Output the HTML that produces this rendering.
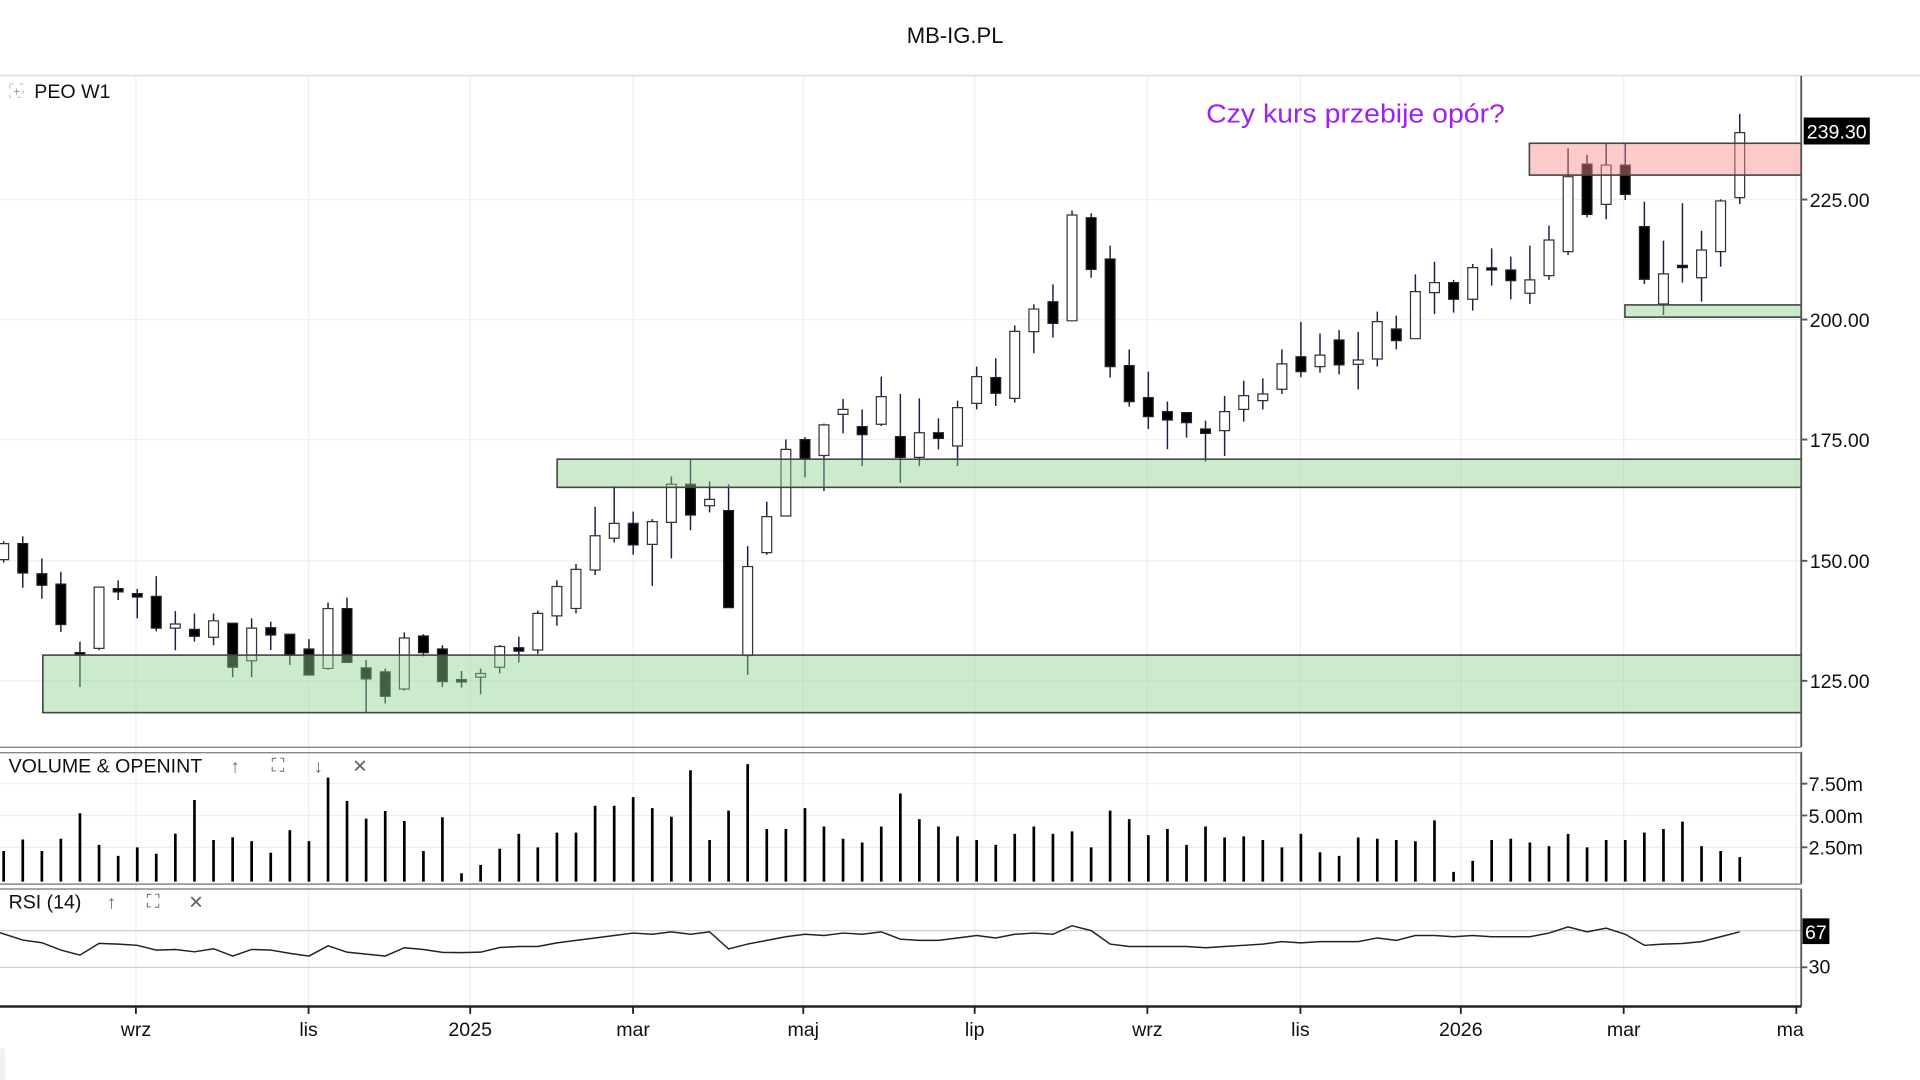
<!DOCTYPE html>
<html><head><meta charset="utf-8"><style>
html,body{margin:0;padding:0;background:#fff;width:1920px;height:1080px;overflow:hidden}
svg{display:block}
text{font-family:"Liberation Sans",sans-serif}
</style></head><body>
<svg width="1920" height="1080" viewBox="0 0 1568 882" xmlns="http://www.w3.org/2000/svg">
<rect width="1568" height="882" fill="#fff"/>
<text x="780" y="35" font-size="18" text-anchor="middle" fill="#111">MB-IG.PL</text>
<line x1="0" y1="61.7" x2="1568" y2="61.7" stroke="#ddd" stroke-width="1.2"/>
<!-- vertical grid -->
<g stroke="#eee" stroke-width="1">
<path d="M111 62V822M252 62V822M384 62V822M517 62V822M656 62V822M796 62V822M937 62V822M1062 62V822M1193 62V822M1326 62V822M1467 62V822"/>
<path d="M0 163H1471M0 261H1471M0 359H1471M0 458H1471M0 556H1471M0 640H1471M0 666H1471M0 692H1471"/>
</g>
<g stroke="#d0d0d0" stroke-width="1"><path d="M0 760H1471M0 790H1471"/></g>
<!-- wicks -->
<path fill="none" stroke="#1c1c50" stroke-width="1.2" d="M3 442V459.5 M18.6 438V480 M34.2 456V489 M49.7 467V516 M65.3 524V561 M80.9 479V531 M96.5 474V490 M112.1 481V505 M127.6 470.5V515.6 M143.2 499V531 M158.8 501V524 M174.4 501V527 M190 509V553 M205.5 505V553 M221.1 507.7V530.8 M236.7 518V543 M252.3 522V551.3 M267.9 492V547 M283.4 488V541 M299 538.9V582.5 M314.6 546V574.5 M330.2 516.4V564 M345.8 518V536 M361.3 527V561.3 M376.9 548V561.6 M392.5 546V567 M408.1 526.8V549.9 M423.7 519.9V541 M439.2 498.7V534 M454.8 474V511 M470.4 460.6V500.9 M486 413.8V469.6 M501.6 397V443 M517.1 417.8V453 M532.7 424V478.5 M548.3 389V456 M563.9 375V433 M579.5 393V418.4 M595 395.5V496.2 M610.6 446V551 M626.2 409.7V453 M641.8 358.8V421.4 M657.4 357V389.9 M672.9 346V401 M688.5 325.9V353.9 M704.1 334.3V380.6 M719.7 307.6V347.9 M735.3 321.8V394.2 M750.8 325.3V380.6 M766.4 341.6V367 M782 327.2V380.6 M797.6 299.4V334.3 M813.2 292.6V331.6 M828.7 265.7V328.8 M844.3 248.5V288.5 M859.9 232.2V275.7 M875.5 172V262 M891.1 174.2V226.8 M906.6 200.6V308.4 M922.2 285.3V332.1 M937.8 303.5V350.3 M953.4 328V366.9 M969 337V357.4 M984.5 343.5V377 M1000.1 323.4V372.4 M1015.7 310.9V344.3 M1031.3 309V334.3 M1046.9 285.3V321.8 M1062.4 262.9V308.1 M1078 272.4V304.3 M1093.6 269.6V305.7 M1109.2 271V318 M1124.8 254.5V299.4 M1140.3 257.8V285.3 M1155.9 224.1V276.6 M1171.5 213.7V256.4 M1187.1 228.6V255.3 M1202.7 215.6V253.7 M1218.2 202.8V233.3 M1233.8 209.6V244.4 M1249.4 200.6V248.3 M1265 184.3V228.6 M1280.6 121.1V208.3 M1296.1 126.6V177.5 M1311.7 117V179.1 M1327.3 117.6V163.3 M1342.9 164.7V231.9 M1358.5 196.5V257.3 M1374 166V230.8 M1389.6 188.4V246.4 M1405.2 162.8V217.8 M1420.8 93V166.6"/>
<!-- black bodies -->
<path fill="#000" stroke="#222" stroke-width="1" d="M14.6 444h8v24h-8z M30.2 468.6h8v9.4h-8z M45.7 477h8v33h-8z M61.3 533h8v2h-8z M92.5 480.7h8v2.7h-8z M108.1 484.8h8v2.8h-8z M123.6 487h8v26h-8z M154.8 514h8v5.6h-8z M186 509h8v35.9h-8z M217.1 512.7h8v5.9h-8z M232.7 518h8v17h-8z M248.3 530h8v21.3h-8z M279.4 497h8v43.9h-8z M295 545.4h8v9h-8z M310.6 548.7h8v19.9h-8z M341.8 519.4h8v13.6h-8z M357.3 530h8v26.7h-8z M372.9 555h8v2h-8z M419.7 529h8v2.8h-8z M513.1 427.4h8v17.6h-8z M559.9 395.5h8v25.1h-8z M591 417h8v79.2h-8z M653.4 359h8v15.8h-8z M700.1 348.4h8v6.6h-8z M731.3 356.6h8v16.9h-8z M762.4 353.4h8v4.6h-8z M809.2 308.4h8v12.8h-8z M855.9 246.4h8v17.7h-8z M887.1 177.8h8v42.2h-8z M902.6 211.5h8v87.9h-8z M918.2 298.6h8v29.4h-8z M933.8 324.7h8v15.6h-8z M949.4 336.2h8v6.8h-8z M965 337h8v8.2h-8z M980.5 350.3h8v3.6h-8z M1058.4 291.3h8v12.2h-8z M1089.6 277.7h8v20.3h-8z M1136.3 268.7h8v9.5h-8z M1183.1 230.8h8v13.6h-8z M1214.2 218.8h8v1.7h-8z M1229.8 220.5h8v8.7h-8z M1292.1 134h8v41.1h-8z M1323.3 134.8h8v23.9h-8z M1338.9 185.1h8v43h-8z M1370 216.7h8v1.9h-8z"/>
<!-- white bodies -->
<path fill="#fff" stroke="#333" stroke-width="1" d="M-1 444h8v13h-8z M76.9 479.5h8v50h-8z M139.2 509.6h8v3.4h-8z M170.4 507h8v13.4h-8z M201.5 513h8v26.6h-8z M263.9 497h8v48.9h-8z M326.2 521h8v41.7h-8z M388.5 550h8v3h-8z M404.1 528h8v16.9h-8z M435.2 500.9h8v29.9h-8z M450.8 479h8v24h-8z M466.4 465h8v31.9h-8z M482 437.5h8v28h-8z M497.6 427.4h8v12.2h-8z M528.7 426h8v18.6h-8z M544.3 395.5h8v31.1h-8z M575.5 407.8h8v5.2h-8z M606.6 462.7h8v72.6h-8z M622.2 421.9h8v29.4h-8z M637.8 367h8v54.4h-8z M668.9 347h8v25h-8z M684.5 334.3h8v4.1h-8z M715.7 323.9h8v22.6h-8z M746.8 353.4h8v20.1h-8z M778 332.9h8v31.3h-8z M793.6 307.6h8v21.8h-8z M824.7 270.6h8v54.7h-8z M840.3 252.4h8v18.4h-8z M871.5 175.6h8v86.4h-8z M996.1 336.2h8v15.5h-8z M1011.7 323.1h8v11.2h-8z M1027.3 321.8h8v5.4h-8z M1042.9 297.2h8v20.7h-8z M1074 290h8v9.4h-8z M1105.2 294h8v3.6h-8z M1120.8 262.7h8v30.5h-8z M1151.9 238.2h8v38.4h-8z M1167.5 230.8h8v8.2h-8z M1198.7 218.6h8v25.8h-8z M1245.4 228.6h8v10.9h-8z M1261 196h8v29.1h-8z M1276.6 144.3h8v61.2h-8z M1307.7 134.8h8v32.1h-8z M1354.5 223.7h8v24.6h-8z M1385.6 204.2h8v22.6h-8z M1401.2 164.1h8v41.4h-8z M1416.8 108.3h8v53.1h-8z"/>
<!-- zones -->
<g stroke="#444" stroke-width="1.3">
<rect x="35" y="535" width="1436" height="47" fill="#8fd08f" fill-opacity="0.45"/>
<rect x="455" y="375" width="1016" height="23" fill="#8fd08f" fill-opacity="0.45"/>
<rect x="1327" y="249" width="144" height="10" fill="#8fd08f" fill-opacity="0.45"/>
<rect x="1249" y="117" width="222" height="26" fill="#fb8a8a" fill-opacity="0.45"/>
</g>
<text x="985" y="100" font-size="21.5" fill="#a020f0" textLength="244" lengthAdjust="spacingAndGlyphs">Czy kurs przebije opór?</text>
<!-- header -->
<rect x="8" y="68.5" width="11" height="11" fill="none" stroke="#bbb" stroke-width="0.8" stroke-dasharray="3 5"/>
<text x="13.5" y="78" font-size="10" fill="#999" text-anchor="middle">+</text>
<text x="28" y="80" font-size="16" fill="#111">PEO W1</text>
<!-- axes -->
<g stroke="#555" stroke-width="1.5">
<path d="M1471 62V610M1471 614V722M1471 726V822"/>
<path d="M1471 163h5M1471 261h5M1471 359h5M1471 458h5M1471 556h5M1471 640h5M1471 666h5M1471 692h5M1471 790h5"/>
</g>
<g stroke="#888" stroke-width="1.2"><path d="M0 610.3H1471M0 614.7H1471M0 722H1471M0 726H1471"/></g>
<line x1="0" y1="822" x2="1471" y2="822" stroke="#222" stroke-width="2"/>
<g stroke="#222" stroke-width="1.5"><path d="M111 822v6M252 822v6M384 822v6M517 822v6M656 822v6M796 822v6M937 822v6M1062 822v6M1193 822v6M1326 822v6M1467 822v6"/></g>
<g font-size="16" fill="#111">
<text x="1478" y="169">225.00</text>
<text x="1478" y="267">200.00</text>
<text x="1478" y="365">175.00</text>
<text x="1478" y="464">150.00</text>
<text x="1478" y="562">125.00</text>
<text x="1477" y="646">7.50m</text>
<text x="1477" y="672">5.00m</text>
<text x="1477" y="698">2.50m</text>
<text x="1477" y="795">30</text>
</g>
<rect x="1473" y="96" width="54" height="22" fill="#000"/>
<text x="1500" y="113" font-size="16" fill="#fff" text-anchor="middle">239.30</text>
<rect x="1472" y="750" width="22" height="21" fill="#000"/>
<text x="1483" y="767" font-size="16" fill="#fff" text-anchor="middle">67</text>
<!-- x labels -->
<g font-size="16" fill="#111" text-anchor="middle">
<text x="111" y="846">wrz</text><text x="252" y="846">lis</text><text x="384" y="846">2025</text><text x="517" y="846">mar</text><text x="656" y="846">maj</text><text x="796" y="846">lip</text><text x="937" y="846">wrz</text><text x="1062" y="846">lis</text><text x="1193" y="846">2026</text><text x="1326" y="846">mar</text><text x="1462" y="846">ma</text>
</g>
<rect x="0" y="856" width="4" height="26" fill="#f0f0f0"/>
<!-- volume -->
<text x="7" y="631" font-size="16" fill="#111">VOLUME &amp; OPENINT</text>
<g font-size="15" fill="#666" text-anchor="middle">
<text x="192" y="631">↑</text><text x="227" y="630">⛶</text><text x="260" y="631">↓</text><text x="294" y="631">✕</text>
<text x="91" y="742">↑</text><text x="125" y="741">⛶</text><text x="160" y="742">✕</text>
</g>
<text x="7" y="742" font-size="16" fill="#111">RSI (14)</text>
<path fill="none" stroke="#000" stroke-width="2.2" d="M3 720V695M18.6 720V685.6M34.2 720V695M49.7 720V685M65.3 720V664.2M80.9 720V690M96.5 720V699M112.1 720V692M127.6 720V697.2M143.2 720V680.8M158.8 720V653.3M174.4 720V686M190 720V683.9M205.5 720V686.9M221.1 720V696.4M236.7 720V677.9M252.3 720V686.9M267.9 720V635.1M283.4 720V654.1M299 720V668.5M314.6 720V662.3M330.2 720V670.5M345.8 720V695M361.3 720V667.4M376.9 720V713.2M392.5 720V706.4M408.1 720V693.1M423.7 720V681M439.2 720V692M454.8 720V680M470.4 720V680M486 720V658M501.6 720V658M517.1 720V651M532.7 720V660M548.3 720V667M563.9 720V629M579.5 720V686M595 720V662M610.6 720V624M626.2 720V677M641.8 720V677M657.4 720V660M672.9 720V675M688.5 720V685M704.1 720V688M719.7 720V675M735.3 720V648M750.8 720V669M766.4 720V675M782 720V683M797.6 720V686M813.2 720V690M828.7 720V681M844.3 720V675M859.9 720V681M875.5 720V679M891.1 720V692M906.6 720V662M922.2 720V669M937.8 720V682M953.4 720V677M969 720V690M984.5 720V675M1000.1 720V684M1015.7 720V683M1031.3 720V686M1046.9 720V692M1062.4 720V681M1078 720V696M1093.6 720V699M1109.2 720V684M1124.8 720V685M1140.3 720V686M1155.9 720V687M1171.5 720V670M1187.1 720V712M1202.7 720V703M1218.2 720V686M1233.8 720V685M1249.4 720V688M1265 720V691M1280.6 720V681M1296.1 720V692M1311.7 720V686M1327.3 720V686M1342.9 720V680M1358.5 720V677M1374 720V671M1389.6 720V691M1405.2 720V695M1420.8 720V700"/>
<!-- RSI -->
<polyline fill="none" stroke="#222" stroke-width="1.2" points="0,761.7 18.6,767.7 34.2,769.9 49.7,775.9 65.3,780 80.9,770.4 96.5,771 112.1,772 127.6,775.9 143.2,775.4 158.8,777.3 174.4,774.8 190,780.8 205.5,775.4 221.1,775.9 236.7,778.6 252.3,780.8 267.9,772.4 283.4,777.6 299,779.2 314.6,780.8 330.2,774 345.8,775.4 361.3,777.8 376.9,778 392.5,777.6 408.1,773.8 423.7,773 439.2,773 454.8,770 470.4,768 486,766 501.6,764 517.1,762 532.7,763 548.3,761 563.9,763 579.5,761 595,775 610.6,771 626.2,768 641.8,765 657.4,763 672.9,764 688.5,762 704.1,763 719.7,761 735.3,767 750.8,768 766.4,768 782,766 797.6,764 813.2,766 828.7,763 844.3,762 859.9,763 875.5,756 891.1,760 906.6,771 922.2,773 937.8,773 953.4,773 969,773 984.5,774 1000.1,773 1015.7,772 1031.3,771 1046.9,769 1062.4,770 1078,769 1093.6,769 1109.2,769 1124.8,766 1140.3,768 1155.9,764 1171.5,764 1187.1,765 1202.7,764 1218.2,765 1233.8,765 1249.4,765 1265,762 1280.6,757 1296.1,761 1311.7,758 1327.3,763 1342.9,772 1358.5,771 1374,770.5 1389.6,769 1405.2,765 1420.8,761"/>
</svg>
</body></html>
